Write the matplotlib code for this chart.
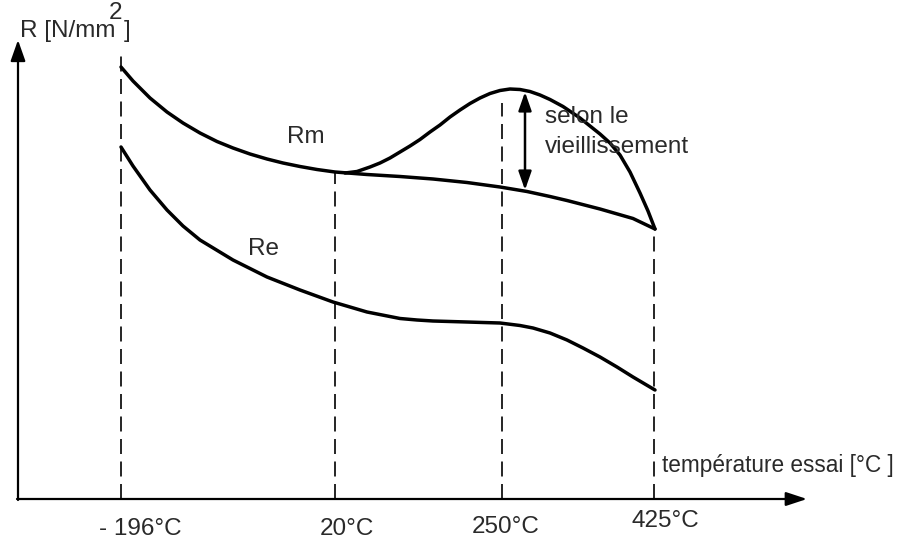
import matplotlib
matplotlib.use("Agg")
import matplotlib.pyplot as plt

# ---- schematic data (figure pixel space: x to the right, y downward) ----
temp_labels = ["- 196°C", "20°C", "250°C", "425°C"]
temp_pos = [121, 335, 502, 654]
dash_top = [52, 173, 103, 230]
label_x = [140, 347, 506, 665]
label_y = [535, 535, 533, 527]

rm_x = [121, 133, 150, 167, 183, 200, 217, 233, 250, 267, 283, 300, 317, 335,
        367, 400, 433, 467, 500, 527, 550, 567, 600, 633, 655]
rm_y = [67, 81, 98, 112, 123, 133, 141.5, 148, 154, 159, 163, 166.5, 169.5, 172,
        174.5, 176.5, 179, 182.5, 187, 191.5, 196.5, 200.5, 209, 218.5, 229]

age_x = [345, 357, 370, 380, 390, 400, 410, 420, 430, 440, 450, 460, 470, 480,
         490, 500, 510, 520, 530, 540, 550, 563, 580, 590, 600, 610, 620, 630,
         640, 648, 655]
age_y = [173, 171.5, 167, 163, 158, 152, 146, 139.5, 132, 125, 117, 110, 103.5,
         98, 93.5, 90.5, 89, 89.5, 91.5, 95, 99.5, 106.5, 118, 126, 134, 143,
         155, 172, 193, 211, 229]

re_x = [121, 133, 150, 167, 183, 200, 233, 267, 300, 333, 367, 400, 417, 433,
        450, 467, 483, 500, 520, 533, 550, 567, 583, 600, 617, 633, 655]
re_y = [147, 166, 190, 210, 226, 240, 260, 277, 290, 302, 312, 318.5, 320, 321,
        321.5, 322, 322.5, 323, 325.5, 328, 333, 340, 348, 357, 367, 377, 390]

axis_origin = (18, 499)
x_axis_end = 807
y_axis_end = 40
aging_x = 525
aging_range = (92, 190)

txt_color = "#2a2a2a"
font = ["Liberation Sans", "DejaVu Sans"]
fs = 17.5

fig = plt.figure(figsize=(9.01, 5.40), dpi=100)
ax = fig.add_axes([0, 0, 1, 1])
ax.set_xlim(0, 901)
ax.set_ylim(540, 0)
ax.axis("off")

# axes with arrows
ox, oy = axis_origin
ax.annotate("", xy=(x_axis_end, oy), xytext=(ox - 1, oy),
            arrowprops=dict(arrowstyle="-|>,head_length=0.85,head_width=0.28",
                            lw=1.6, color="k", mutation_scale=15,
                            shrinkA=0, shrinkB=0))
ax.annotate("", xy=(ox, y_axis_end), xytext=(ox, oy + 1),
            arrowprops=dict(arrowstyle="-|>,head_length=0.85,head_width=0.3",
                            lw=1.6, color="k", mutation_scale=15,
                            shrinkA=0, shrinkB=0))

# dashed verticals and temperature labels
for xp, top, lab, lx, ly in zip(temp_pos, dash_top, temp_labels, label_x, label_y):
    ax.plot([xp, xp], [oy, top], color="k", lw=1.2,
            linestyle=(0, (9.0, 4.5)))
    ax.text(lx, ly, lab, ha="center", va="baseline", fontsize=fs,
            family=font, color=txt_color)

# curves
for cx, cy in ((rm_x, rm_y), (age_x, age_y), (re_x, re_y)):
    ax.plot(cx, cy, color="k", lw=2.5, solid_joinstyle="round",
            solid_capstyle="round")

# double arrow
ax.annotate("", xy=(aging_x, aging_range[0]), xytext=(aging_x, aging_range[1]),
            arrowprops=dict(arrowstyle="<|-|>,head_length=0.8,head_width=0.28",
                            lw=1.8, color="k", mutation_scale=14,
                            shrinkA=0, shrinkB=0))

# texts
ax.text(20, 37, "R [N/mm", ha="left", va="baseline", fontsize=fs,
        family=font, color=txt_color)
ax.text(109, 19, "2", ha="left", va="baseline", fontsize=fs,
        family=font, color=txt_color)
ax.text(124, 37, "]", ha="left", va="baseline", fontsize=fs,
        family=font, color=txt_color)
ax.text(287, 143, "Rm", ha="left", va="baseline", fontsize=fs,
        family=font, color=txt_color)
ax.text(248, 255, "Re", ha="left", va="baseline", fontsize=fs,
        family=font, color=txt_color)
ax.text(545, 123, "selon le", ha="left", va="baseline", fontsize=fs,
        family=font, color=txt_color)
ax.text(545, 153, "vieillissement", ha="left", va="baseline", fontsize=fs,
        family=font, color=txt_color)
ax.text(662, 472, "température essai [°C ]", ha="left", va="baseline",
        fontsize=16.3, family=font, color=txt_color)

fig.savefig("out.png", dpi=100)
